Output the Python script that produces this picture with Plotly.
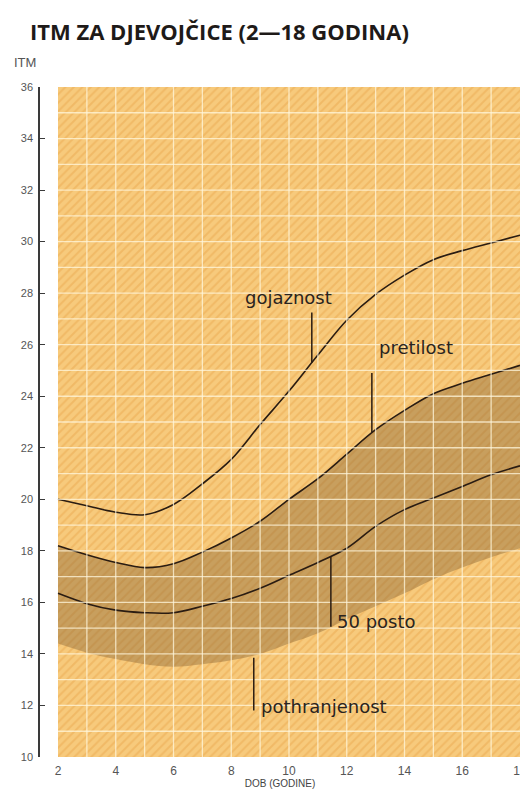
import plotly.graph_objects as go

# ---- data ----
age = [2, 3, 4, 5, 6, 7, 8, 9, 10, 11, 12, 13, 14, 15, 16, 17, 18]
gojaznost = [20.0, 19.75, 19.5, 19.4, 19.8, 20.6, 21.55, 22.9, 24.2, 25.6, 26.95, 27.95, 28.7, 29.3, 29.65, 29.95, 30.25]
pretilost = [18.2, 17.85, 17.55, 17.35, 17.5, 17.95, 18.5, 19.15, 20.0, 20.8, 21.75, 22.7, 23.45, 24.1, 24.5, 24.85, 25.2]
posto50 = [16.35, 15.95, 15.7, 15.6, 15.6, 15.85, 16.15, 16.55, 17.05, 17.55, 18.1, 18.95, 19.6, 20.05, 20.5, 20.95, 21.3]
pothranjenost = [14.4, 14.05, 13.8, 13.6, 13.5, 13.6, 13.75, 14.0, 14.4, 14.8, 15.35, 15.85, 16.35, 16.9, 17.35, 17.75, 18.1]

x_ticks = [2, 4, 6, 8, 10, 12, 14, 16, 18]
y_ticks = [10, 12, 14, 16, 18, 20, 22, 24, 26, 28, 30, 32, 34, 36]

# chart area extent
X0, X1 = 2, 18
Y0, Y1 = 10, 36

# label text, anchor (x, y) and leader line (x, y_top, y_bottom)
labels = [
    ("gojaznost", 8.4, 27.85, 10.79, 27.25, 25.3),
    ("pretilost", 13.05, 25.9, 12.87, 24.9, 22.6),
    ("50 posto", 11.6, 15.25, 11.45, 17.76, 15.05),
    ("pothranjenost", 8.95, 11.95, 8.78, 13.85, 11.8),
]

LINE = "#2a1c12"
fig = go.Figure()

# hatched background
fig.add_trace(go.Scatter(
    x=[X0, X1, X1, X0, X0], y=[Y0, Y0, Y1, Y1, Y0],
    mode="lines", line=dict(width=0), fill="toself",
    fillcolor="#F6C778",
    fillpattern=dict(shape="/", bgcolor="#F7CA7C", fgcolor="#EAA94F", size=6, solidity=0.33),
    hoverinfo="skip", showlegend=False))

# shaded band
fig.add_trace(go.Scatter(x=age, y=pothranjenost, mode="lines",
                         line=dict(width=0, shape="spline", smoothing=1), showlegend=False))
fig.add_trace(go.Scatter(x=age, y=pretilost, mode="lines", fill="tonexty",
                         fillcolor="rgba(130,95,50,0.40)",
                         line=dict(color=LINE, width=1.6, shape="spline", smoothing=1), showlegend=False))
fig.add_trace(go.Scatter(x=age, y=posto50, mode="lines",
                         line=dict(color=LINE, width=1.6, shape="spline", smoothing=1), showlegend=False))
fig.add_trace(go.Scatter(x=age, y=gojaznost, mode="lines",
                         line=dict(color=LINE, width=1.6, shape="spline", smoothing=1), showlegend=False))

shapes = []
grid_col = "rgba(255,247,222,0.75)"
for gx in range(X0 + 1, X1):
    shapes.append(dict(type="line", xref="x", yref="y", x0=gx, x1=gx, y0=Y0, y1=Y1,
                       line=dict(color=grid_col, width=1.3), layer="above"))
for gy in range(Y0 + 1, Y1):
    shapes.append(dict(type="line", xref="x", yref="y", x0=X0, x1=X1, y0=gy, y1=gy,
                       line=dict(color=grid_col, width=1.3), layer="above"))

annotations = []
for text, tx, ty, lx, ly0, ly1 in labels:
    shapes.append(dict(type="line", xref="x", yref="y", x0=lx, x1=lx, y0=ly0, y1=ly1,
                       line=dict(color=LINE, width=1.5), layer="above"))
    annotations.append(dict(text=text, x=tx, y=ty, xref="x", yref="y", xanchor="left",
                            yanchor="middle", showarrow=False,
                            font=dict(family="DejaVu Sans", size=18, color="#2a2420")))

annotations.append(dict(text="ITM", xref="paper", yref="paper", x=-0.058, y=1.037,
                        xanchor="left", yanchor="middle", showarrow=False,
                        font=dict(family="Liberation Sans", size=13, color="#555555")))

# the page adds an 8px body margin; keep the page within 528x800 (no scrollbars)
fig.update_layout(
    width=520, height=784,
    margin=dict(l=32, r=8, t=79, b=35, autoexpand=False),
    paper_bgcolor="white", plot_bgcolor="white",
    title=dict(text="<b>ITM ZA DJEVOJČICE (2—18 GODINA)</b>", x=22 / 520, xanchor="left",
               y=1 - 24 / 784, yanchor="middle", yref="container",
               font=dict(family="Open Sans", size=22, color="#1e1a18")),
    shapes=shapes, annotations=annotations,
    xaxis=dict(range=[X0 - 18 / 28.88, X1], tickvals=x_ticks, showgrid=False, zeroline=False,
               automargin=False, ticklabelstandoff=5,
               showline=False, ticks="", tickfont=dict(family="Liberation Sans", size=12, color="#555555"),
               title=dict(text="DOB (GODINE)", standoff=1,
                          font=dict(family="Liberation Sans", size=10, color="#444444"))),
    yaxis=dict(range=[Y0, Y1], tickvals=y_ticks, showgrid=False, zeroline=False, automargin=False,
               showline=True, linecolor="#3a3a3a", linewidth=1.5, ticks="inside", ticklen=5,
               tickcolor="#3a3a3a", tickwidth=1.3, ticklabelstandoff=3,
               tickfont=dict(family="Liberation Sans", size=11, color="#555555")),
)

fig.write_html("out.html")
